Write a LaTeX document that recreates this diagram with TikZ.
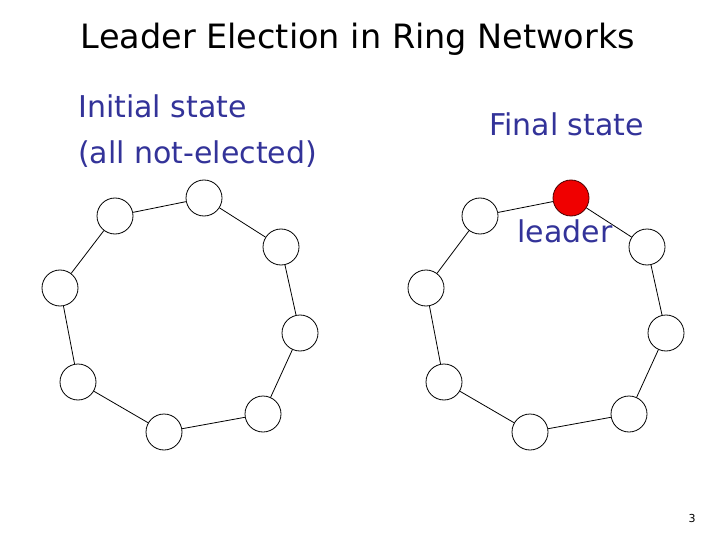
\documentclass[tikz,border=0pt]{standalone}
\usepackage{fontspec}
\setmainfont{DejaVu Sans}
\definecolor{txtblue}{RGB}{51,51,153}
\definecolor{leadred}{RGB}{240,0,0}
\tikzset{
  proc/.style={circle,draw=black,line width=0.8pt,minimum size=36pt,inner sep=0pt,fill=white},
  leadproc/.style={proc,fill=leadred,draw=black!70!red},
  link/.style={line width=0.8pt},
  bluelabel/.style={text=txtblue,font=\fontsize{30}{36}\selectfont,inner sep=0pt}
}
\begin{document}
\begin{tikzpicture}[x=1pt,y=-1pt]
\useasboundingbox[fill=white] (0,0) rectangle (720,540);
\node[anchor=base,inner sep=0pt,font=\fontsize{33.5}{40}\selectfont] (title) at (358,49) {Leader Election in Ring Networks};
\node[bluelabel,anchor=base west] (init1) at (78,118) {Initial state};
\node[bluelabel,anchor=base west] (init2) at (78,164) {(all not-elected)};
\node[bluelabel,anchor=base west] (final) at (489,136) {Final state};
% left ring
\node[proc] (la) at (115,216) {};
\node[proc] (lb) at (204,198) {};
\node[proc] (lc) at (281,247) {};
\node[proc] (ld) at (300,333) {};
\node[proc] (le) at (263,414) {};
\node[proc] (lf) at (164,432) {};
\node[proc] (lg) at (78,382) {};
\node[proc] (lh) at (60,288) {};
\draw[link] (la)--(lb) (lb)--(lc) (lc)--(ld) (ld)--(le) (le)--(lf) (lf)--(lg) (lg)--(lh) (lh)--(la);
% right ring
\node[proc] (ra) at (480,216) {};
\node[leadproc] (rb) at (571,198) {};
\node[proc] (rc) at (647,247) {};
\node[proc] (rd) at (666,333) {};
\node[proc] (re) at (629,414) {};
\node[proc] (rf) at (530,432) {};
\node[proc] (rg) at (444,382) {};
\node[proc] (rh) at (426,288) {};
\draw[link] (ra)--(rb) (rb)--(rc) (rc)--(rd) (rd)--(re) (re)--(rf) (rf)--(rg) (rg)--(rh) (rh)--(ra);
\node[bluelabel,anchor=base] (leader) at (565,243) {leader};
\node[anchor=base,inner sep=0pt,font=\fontsize{11}{13}\selectfont] (pg) at (692,522) {3};
\end{tikzpicture}
\end{document}
